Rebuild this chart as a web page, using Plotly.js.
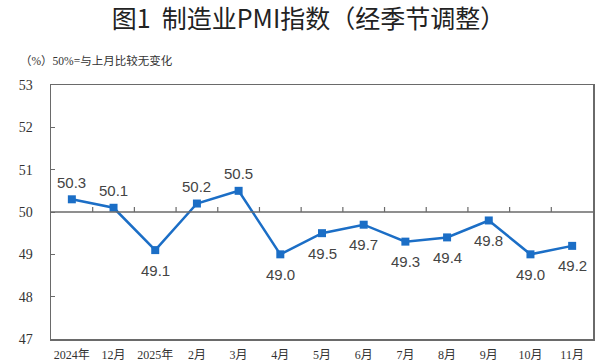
<!DOCTYPE html>
<html>
<head>
<meta charset="utf-8">
<script src="https://cdn.plot.ly/plotly-3.0.1.min.js"></script>
<style>html,body{margin:0;padding:0;background:#fff;}#chart{width:599px;height:363px;}</style>
</head>
<body>
<div id="chart"></div>
<script>
var categories = ['2024年', '12月', '2025年', '2月', '3月', '4月', '5月', '6月', '7月', '8月', '9月', '10月', '11月'];
var pmiValues = [50.3, 50.1, 49.1, 50.2, 50.5, 49.0, 49.5, 49.7, 49.3, 49.4, 49.8, 49.0, 49.2];
var yTickVals = [47, 48, 49, 50, 51, 52, 53];
var baseline = 50;
var titleText = '图1  制造业PMI指数（经季节调整）';
var noteText = '（%）50%=与上月比较无变化';

var serif = 'Liberation Serif, Times New Roman, Noto Sans CJK SC, serif';
var sans = 'Liberation Sans, Arial, sans-serif';
var blue = '#1b6ec6';
var frame = '#6a6a6a';

var trace = {
  x: categories,
  y: pmiValues,
  type: 'scatter',
  mode: 'lines+markers',
  line: {color: blue, width: 2.5},
  marker: {symbol: 'square', size: 8, color: blue},
  hoverinfo: 'skip'
};

var annotations = pmiValues.map(function (v, i) {
  return {
    x: categories[i], y: v, xref: 'x', yref: 'y',
    text: v.toFixed(1), showarrow: false,
    yshift: v > baseline ? 17 : -20,
    font: {family: sans, size: 15, color: '#444'}
  };
});
annotations.push({
  x: -0.061, y: 1.098, xref: 'paper', yref: 'paper',
  xanchor: 'left', yanchor: 'middle', showarrow: false,
  text: noteText,
  font: {family: serif, size: 11.5, color: '#333'}
});

var shapes = [{
  type: 'line', xref: 'paper', yref: 'y', x0: 0, x1: 1, y0: baseline, y1: baseline,
  line: {color: frame, width: 1.5}
}];
for (var i = 0; i < categories.length - 1; i++) {
  shapes.push({
    type: 'line', xref: 'x', yref: 'y', ysizemode: 'pixel', yanchor: baseline,
    x0: i + 0.5, x1: i + 0.5, y0: 0, y1: 5,
    line: {color: frame, width: 1.2}
  });
}

var layout = {
  width: 599, height: 363,
  margin: {l: 51, r: 6, t: 85, b: 24},
  paper_bgcolor: '#fff', plot_bgcolor: '#fff',
  showlegend: false,
  title: {
    text: titleText, x: 0.515, xanchor: 'center', xref: 'container',
    y: 0.947, yanchor: 'middle', yref: 'container',
    font: {family: 'Noto Sans CJK SC, sans-serif', size: 25, color: '#222'}
  },
  xaxis: {
    type: 'category', range: [-0.5, categories.length - 0.5],
    showline: true, mirror: true, linecolor: frame, linewidth: 1.5,
    showgrid: false, zeroline: false, ticks: '',
    tickfont: {family: serif, size: 12, color: '#333'},
    ticklabelstandoff: 4
  },
  yaxis: {
    range: [47, 53], tickvals: yTickVals,
    showline: true, mirror: true, linecolor: frame, linewidth: 1.5,
    showgrid: false, zeroline: false,
    ticks: 'inside', ticklen: 4, tickcolor: frame,
    tickfont: {family: serif, size: 14, color: '#333'},
    ticklabelstandoff: 14
  },
  shapes: shapes,
  annotations: annotations
};

Plotly.newPlot('chart', [trace], layout, {displayModeBar: false, staticPlot: true});
</script>
</body>
</html>
